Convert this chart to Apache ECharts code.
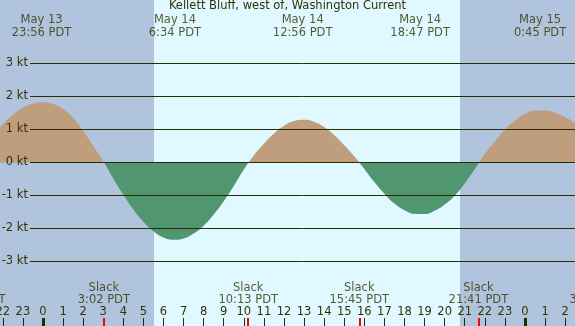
<!DOCTYPE html>
<html>
<head>
<meta charset="utf-8">
<script src="https://cdn.jsdelivr.net/npm/echarts@6/dist/echarts.min.js"></script>
<style>html,body{margin:0;padding:0;background:#b0c4de;}#chart{width:575px;height:326px;}</style>
</head>
<body>
<div id="chart"></div>
<script>
// times are hours from May 14 00:00 PDT, values in knots (read every half hour)
var curveTimes = [-2.5, -2, -1.5, -1, -0.5, 0, 0.5, 1, 1.5, 2, 2.5, 3,
    3.5, 4, 4.5, 5, 5.5, 6, 6.5, 7, 7.5, 8, 8.5, 9, 9.5, 10,
    10.5, 11, 11.5, 12, 12.5, 13, 13.5, 14, 14.5, 15, 15.5,
    16, 16.5, 17, 17.5, 18, 18.5, 19, 19.5, 20, 20.5, 21, 21.5,
    22, 22.5, 23, 23.5, 24, 24.5, 25, 25.5, 26, 26.5, 27];
var curveValues = [0.80, 1.15, 1.44, 1.66, 1.78, 1.82, 1.77, 1.62, 1.34, 0.95, 0.50, 0.03,
    -0.49, -0.98, -1.43, -1.80, -2.09, -2.28, -2.35, -2.31, -2.16, -1.92, -1.58, -1.18, -0.72, -0.22,
    0.21, 0.56, 0.87, 1.11, 1.25, 1.29, 1.23, 1.07, 0.83, 0.52, 0.18,
    -0.20, -0.60, -0.95, -1.25, -1.45, -1.56, -1.57, -1.47, -1.28, -1.01, -0.64, -0.20,
    0.26, 0.64, 0.99, 1.27, 1.46, 1.57, 1.57, 1.50, 1.37, 1.18, 0.94];

var ktLevels = [-3, -2, -1, 1, 2, 3];
var hourTicks = [-2, -1, 0, 1, 2, 3, 4, 5, 6, 7, 8, 9, 10, 11, 12, 13, 14, 15, 16, 17, 18, 19, 20, 21, 22, 23, 24, 25, 26];
var midnightTicks = [0, 24];

var slackTimes = [-3.35, 3.03, 10.22, 15.75, 21.68, 27.52];
var slackLabels = ['20:39 PDT', '3:02 PDT', '10:13 PDT', '15:45 PDT', '21:41 PDT', '3:31 PDT'];

var eventTimes = [-0.07, 6.57, 12.93, 18.78, 24.75];
var eventDays = ['May 13', 'May 14', 'May 14', 'May 14', 'May 15'];
var eventLabels = ['23:56 PDT', '6:34 PDT', '12:56 PDT', '18:47 PDT', '0:45 PDT'];

var sunrise = 5.53, sunset = 20.77;

var X_MIN = -2.141, X_MAX = 26.49;
var Y_MIN = -4.96, Y_MAX = 4.918;

var TXT = '#333300';
var LINE = '#2b2b00';
var FLOOD = '#bf9e7e';
var EBB = '#509670';
var FS = 11.5;

var chart = echarts.init(document.getElementById('chart'));

var curve = curveTimes.map(function (t, i) { return [t, curveValues[i]]; });
var inRangeSlack = slackTimes.filter(function (t) { return t >= X_MIN && t <= X_MAX; });

function tickAxis(ticks, color, width, z) {
    return {
        type: 'value', gridIndex: 0, min: X_MIN, max: X_MAX, position: 'bottom', z: z,
        axisLine: { show: false, onZero: false },
        splitLine: { show: false },
        axisLabel: { show: false },
        axisTick: { show: true, inside: true, length: 8, customValues: ticks,
            lineStyle: { color: color, width: width } }
    };
}

var hourAxis = tickAxis(hourTicks, LINE, 1, 10);
hourAxis.axisLabel = { show: true, inside: true, margin: 8, customValues: hourTicks,
    color: TXT, fontSize: FS, lineHeight: 12, hideOverlap: false,
    alignMinLabel: 'center', alignMaxLabel: 'center',
    formatter: function (v) { return String(((v % 24) + 24) % 24); } };

// text labels placed outside the axis range still get drawn (clipped by the canvas)
function textSeries(times, yVal, pos, dist, lh, fmt) {
    return {
        type: 'scatter', xAxisIndex: 0, yAxisIndex: 0, z: 10, silent: true, clip: false,
        symbolSize: 1, itemStyle: { color: 'rgba(0,0,0,0)' },
        data: times.map(function (t) { return [t, yVal]; }),
        label: { show: true, position: pos, distance: dist, color: TXT, fontSize: FS,
            lineHeight: lh, align: 'center', formatter: fmt }
    };
}

chart.setOption({
    animation: false,
    textStyle: { fontFamily: 'DejaVu Sans' },
    title: {
        text: 'Kellett Bluff, west of, Washington Current',
        left: 'center',
        top: 0,
        padding: 0,
        textStyle: { fontSize: FS, fontWeight: 'normal', color: TXT, lineHeight: 13 }
    },
    grid: [
        { left: 0, right: 0, top: 0, bottom: 0, containLabel: false, outerBoundsMode: 'none' },
        { left: 30, right: 0, top: 0, bottom: 0, containLabel: false, outerBoundsMode: 'none' }
    ],
    xAxis: [
        hourAxis,
        tickAxis(midnightTicks, LINE, 3, 11),
        tickAxis(inRangeSlack, '#ff0000', 2, 12),
        { type: 'value', gridIndex: 1, min: X_MIN, max: X_MAX, show: false }
    ],
    yAxis: [
        { type: 'value', gridIndex: 0, min: Y_MIN, max: Y_MAX, show: false },
        { type: 'value', gridIndex: 1, min: Y_MIN, max: Y_MAX, show: false }
    ],
    series: [
        {
            // day / night background
            type: 'line', xAxisIndex: 0, yAxisIndex: 0, z: 0, silent: true,
            data: [[X_MIN, 0]], showSymbol: false, lineStyle: { width: 0 },
            markArea: {
                silent: true,
                data: [
                    [{ xAxis: X_MIN, itemStyle: { color: '#b0c4de' } }, { xAxis: sunrise }],
                    [{ xAxis: sunrise, itemStyle: { color: '#e0f8ff' } }, { xAxis: sunset }],
                    [{ xAxis: sunset, itemStyle: { color: '#b0c4de' } }, { xAxis: X_MAX }]
                ]
            }
        },
        {
            // kt grid lines
            type: 'line', xAxisIndex: 3, yAxisIndex: 1, z: 1, silent: true,
            data: [[X_MIN, 0]], showSymbol: false, lineStyle: { width: 0 },
            markLine: {
                silent: true, symbol: 'none',
                lineStyle: { color: LINE, width: 1, type: 'solid' },
                label: { show: true, position: 'start', distance: 2, color: TXT, fontSize: FS,
                    formatter: function (p) { return p.value + ' kt'; } },
                data: ktLevels.map(function (v) { return { yAxis: v }; })
            }
        },
        {
            // current
            type: 'line', xAxisIndex: 0, yAxisIndex: 0, z: 2, silent: true,
            data: curve, smooth: 0.5, showSymbol: false,
            lineStyle: { width: 0 },
            areaStyle: { opacity: 1, color: FLOOD }
        },
        {
            // zero line on top
            type: 'line', xAxisIndex: 3, yAxisIndex: 1, z: 3, silent: true,
            data: [[X_MIN, 0]], showSymbol: false, lineStyle: { width: 0 },
            markLine: {
                silent: true, symbol: 'none',
                lineStyle: { color: LINE, width: 1, type: 'solid' },
                label: { show: true, position: 'start', distance: 2, color: TXT, fontSize: FS,
                    formatter: function (p) { return p.value + ' kt'; } },
                data: [{ yAxis: 0 }]
            }
        },
        textSeries(eventTimes, Y_MAX, 'bottom', 13, 13, function (p) {
            return eventDays[p.dataIndex] + '\n' + eventLabels[p.dataIndex];
        }),
        textSeries(slackTimes, Y_MIN, 'top', 19, 12.5, function (p) {
            return 'Slack\n' + slackLabels[p.dataIndex];
        })
    ]
});

// flood above the zero line, ebb below: hard-stop gradient at the axis zero
var zeroY = chart.convertToPixel({ yAxisIndex: 0 }, 0);
var h = chart.getHeight();
var cut = zeroY / h;
chart.setOption({
    series: [{}, {}, {
        areaStyle: {
            opacity: 1,
            color: new echarts.graphic.LinearGradient(0, 0, 0, h, [
                { offset: 0, color: FLOOD },
                { offset: cut, color: FLOOD },
                { offset: cut, color: EBB },
                { offset: 1, color: EBB }
            ], true)
        }
    }]
});
</script>
</body>
</html>
